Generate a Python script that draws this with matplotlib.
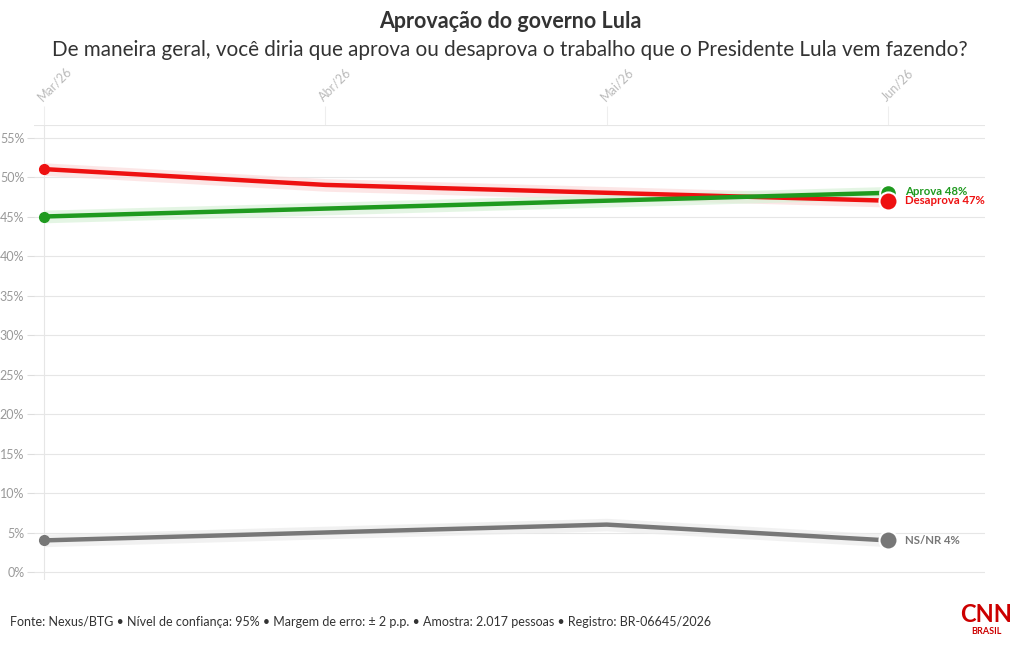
import matplotlib.pyplot as plt
import numpy as np

plt.rcParams['font.family'] = ['Lato', 'DejaVu Sans']

# dados
meses = ['Mar/26', 'Abr/26', 'Mai/26', 'Jun/26']
aprova = [45, 46, 47, 48]
desaprova = [51, 49, 48, 47]
nsnr = [4, 5, 6, 4]
yticks = [0, 5, 10, 15, 20, 25, 30, 35, 40, 45, 50, 55]

series = [
    ('Desaprova', desaprova, '#ee1111', '#fbdcdc'),
    ('Aprova', aprova, '#1f9a1f', '#d9f2d9'),
    ('NS/NR', nsnr, '#777777', '#ececec'),
]

fig = plt.figure(figsize=(10.2, 6.5), dpi=100)
W, H = 1020, 650
# eixo em pixels: esquerda 34, direita 985, topo 125, base 580
ax = fig.add_axes([34 / W, 1 - 580 / H, (985 - 34) / W, (580 - 125) / H])

x = np.arange(len(meses))
px = 281.33
ax.set_xlim(-10 / px, (985 - 44) / px)
ax.set_ylim(-8 / 7.9, (572 - 125) / 7.9)

for s in ['top', 'right', 'bottom', 'left']:
    ax.spines[s].set_visible(False)

ax.set_yticks(yticks)
ax.set_yticklabels([f'{v}%' for v in yticks], color='#999999', fontsize=9)
ax.tick_params(axis='y', length=5, color='#dddddd', pad=2)
ax.grid(axis='y', color='#e6e6e6', linewidth=0.8)
ax.axhline((572 - 125) / 7.9, color='#e6e6e6', linewidth=0.8)
ax.axvline(0, color='#e6e6e6', linewidth=0.8)

ax.set_xticks(x)
ax.xaxis.tick_top()
ax.set_xticklabels(meses, rotation=45, ha='left', va='bottom', color='#bbbbbb',
                   fontsize=9, rotation_mode='anchor')
ax.tick_params(axis='x', length=14, color='#eeeeee', pad=2)

for nome, vals, cor, banda in series:
    v = np.array(vals, dtype=float)
    ax.fill_between(x, v - 0.8, v + 0.8, color=banda, alpha=0.7, lw=0, zorder=2)
    ax.plot(x, v, color=cor, lw=3.2, solid_joinstyle='round', solid_capstyle='round', zorder=3)
    ax.plot(x[0], v[0], 'o', color=cor, ms=7, zorder=4)

# marcadores finais
ax.plot(x[-1], aprova[-1], 'o', color='#1f9a1f', ms=12, mec='white', mew=1.5, zorder=5)
ax.plot(x[-1], desaprova[-1], 'o', color='#ee1111', ms=13, mec='white', mew=1.5, zorder=6)
ax.plot(x[-1], nsnr[-1], 'o', color='#777777', ms=13, mec='white', mew=1.5, zorder=5)

ax.annotate(f'Aprova {aprova[-1]}%', (x[-1], aprova[-1]), xytext=(12, 1),
            textcoords='offset points', color='#1f9a1f', fontsize=8.2, fontweight='bold', va='center')
ax.annotate(f'Desaprova {desaprova[-1]}%', (x[-1], desaprova[-1]), xytext=(12, 0),
            textcoords='offset points', color='#ee1111', fontsize=8.2, fontweight='bold', va='center')
ax.annotate(f'NS/NR {nsnr[-1]}%', (x[-1], nsnr[-1]), xytext=(12, 0),
            textcoords='offset points', color='#777777', fontsize=8.2, fontweight='bold', va='center')

fig.text(0.5, 1 - 22 / H, 'Aprovação do governo Lula', ha='center', va='center',
         fontsize=15.5, fontweight='bold', color='#333333')
fig.text(0.5, 1 - 50 / H,
         'De maneira geral, você diria que aprova ou desaprova o trabalho que o Presidente Lula vem fazendo?',
         ha='center', va='center', fontsize=14.9, color='#333333')
fig.text(10 / W, 1 - 622 / H,
         'Fonte: Nexus/BTG • Nível de confiança: 95% • Margem de erro: ± 2 p.p. • Amostra: 2.017 pessoas • Registro: BR-06645/2026',
         ha='left', va='center', fontsize=9, color='#333333')
fig.text(986 / W, 1 - 614 / H, 'CNN', ha='center', va='center', fontsize=17,
         fontweight='bold', color='#cc0000')
fig.text(986 / W, 1 - 632 / H, 'BRASIL', ha='center', va='center', fontsize=6.5,
         fontweight='bold', color='#cc0000')

fig.savefig('out.png', dpi=100)
